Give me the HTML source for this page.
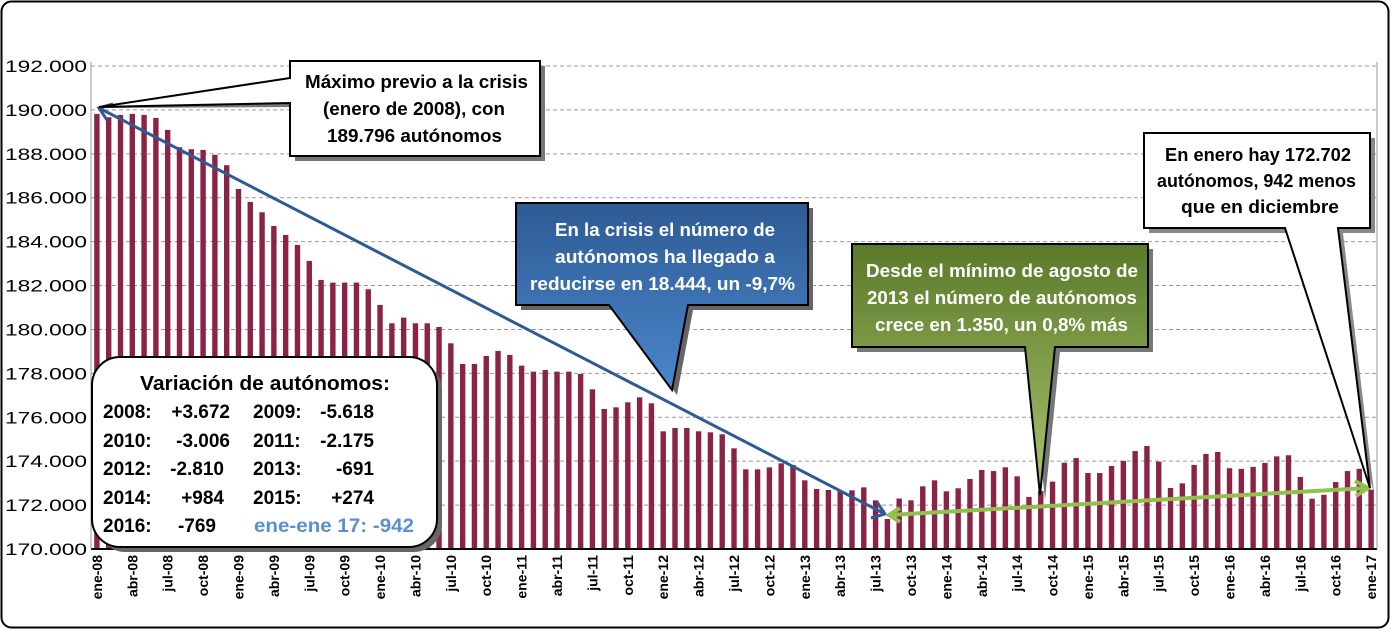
<!DOCTYPE html>
<html><head><meta charset="utf-8"><style>
html,body{margin:0;padding:0;background:#fff;}
svg{display:block;font-family:"Liberation Sans",Arial,sans-serif;}
</style></head><body>
<svg id="chart" width="1391" height="630" viewBox="0 0 1391 630" xmlns="http://www.w3.org/2000/svg">
<defs>
<linearGradient id="gb" x1="0" y1="0" x2="0" y2="1"><stop offset="0" stop-color="#2e5b94"/><stop offset="1" stop-color="#4a86cc"/></linearGradient>
<linearGradient id="gg" x1="0" y1="0" x2="0" y2="1"><stop offset="0" stop-color="#5a7a2a"/><stop offset="1" stop-color="#a9c46e"/></linearGradient>
</defs>
<rect x="1.5" y="1.5" width="1387" height="626" rx="10" fill="#fff" stroke="#000" stroke-width="2"/>
<g id="grid"></g>
<g id="ylab"></g>
<g id="bars"></g>
<g id="xlab"></g>
<line x1="91" y1="549" x2="1377" y2="549" stroke="#000" stroke-width="2"/>
<line x1="91" y1="62" x2="91" y2="549" stroke="#999" stroke-width="1"/>
<line x1="1377" y1="62" x2="1377" y2="549" stroke="#999" stroke-width="1"/>

<g stroke="#2f5b95" stroke-width="3" fill="none">
<line x1="99" y1="108" x2="885" y2="514"/>
<polyline points="113,104 99,108 107,120"/>
<polyline points="871,518 885,514 877,502"/>
</g>
<g stroke="#92c050" stroke-width="4" fill="none">
<line x1="889" y1="515" x2="1368" y2="488"/>
<polyline points="900,508 889,515 900,522"/>
<polyline points="1355,481 1368,488 1356,496"/>
</g>

<g font-size="18" font-weight="bold">
<polygon points="295,66 545,66 545,161 295,161 295,107 99,108 295,84" fill="#777"/>
<polygon points="290,61 540,61 540,156 290,156 290,103 99,107 290,78" fill="#fff" stroke="#000" stroke-width="2"/>
<text x="305" y="88" textLength="223" lengthAdjust="spacingAndGlyphs">Máximo previo a la crisis</text>
<text x="323" y="115" textLength="182" lengthAdjust="spacingAndGlyphs">(enero de 2008), con</text>
<text x="327" y="142" textLength="175" lengthAdjust="spacingAndGlyphs">189.796  autónomos</text>
</g>
<g font-size="18" font-weight="bold" fill="#fff">
<polygon points="521,208 813,208 813,310 693,310 677,395 614,310 521,310" fill="#666"/>
<polygon points="516,203 808,203 808,305 688,305 672,390 609,305 516,305" fill="url(#gb)" stroke="#000" stroke-width="2"/>
<text x="555" y="236" textLength="220" lengthAdjust="spacingAndGlyphs">En la crisis el número de</text>
<text x="555" y="263" textLength="220" lengthAdjust="spacingAndGlyphs">autónomos ha llegado a</text>
<text x="530" y="290" textLength="265" lengthAdjust="spacingAndGlyphs">reducirse en 18.444,  un -9,7%</text>
</g>
<g font-size="18" font-weight="bold" fill="#fff">
<polygon points="857,249 1153,249 1153,352 1060,352 1045,500 1030,352 857,352" fill="#777"/>
<polygon points="852,244 1148,244 1148,347 1055,347 1040,495 1025,347 852,347" fill="url(#gg)" stroke="#000" stroke-width="2"/>
<text x="866" y="277" textLength="272" lengthAdjust="spacingAndGlyphs">Desde el mínimo de agosto de</text>
<text x="867" y="304" textLength="270" lengthAdjust="spacingAndGlyphs">2013 el número de autónomos</text>
<text x="875" y="331" textLength="253" lengthAdjust="spacingAndGlyphs">crece en 1.350,  un 0,8% más</text>
</g>
<g font-size="18" font-weight="bold">
<polygon points="1149,138 1375,138 1375,233 1343,233 1374,492 1290,233 1149,233" fill="#888"/>
<polygon points="1144,133 1370,133 1370,228 1338,228 1370,488 1285,228 1144,228" fill="#fff" stroke="#000" stroke-width="2"/>
<text x="1165" y="161" textLength="186" lengthAdjust="spacingAndGlyphs">En enero hay 172.702</text>
<text x="1157" y="187" textLength="199" lengthAdjust="spacingAndGlyphs">autónomos, 942 menos</text>
<text x="1181" y="213" textLength="158" lengthAdjust="spacingAndGlyphs">que en diciembre</text>
</g>
<g font-size="19" font-weight="bold">
<rect x="97" y="362" width="345" height="190" rx="28" fill="#666"/>
<rect x="92" y="357" width="345" height="190" rx="28" fill="#fff" stroke="#000" stroke-width="2"/>
<text x="140" y="390" font-size="20" textLength="250" lengthAdjust="spacingAndGlyphs">Variación de autónomos:</text>
<text x="103" y="418">2008:</text><text x="230" y="418" text-anchor="end">+3.672</text>
<text x="253" y="418">2009:</text><text x="374" y="418" text-anchor="end">-5.618</text>
<text x="103" y="447">2010:</text><text x="230" y="447" text-anchor="end">-3.006</text>
<text x="253" y="447">2011:</text><text x="374" y="447" text-anchor="end">-2.175</text>
<text x="103" y="475">2012:</text><text x="224" y="475" text-anchor="end">-2.810</text>
<text x="253" y="475">2013:</text><text x="374" y="475" text-anchor="end">-691</text>
<text x="103" y="504">2014:</text><text x="224" y="504" text-anchor="end">+984</text>
<text x="253" y="504">2015:</text><text x="374" y="504" text-anchor="end">+274</text>
<text x="103" y="532">2016:</text><text x="216" y="532" text-anchor="end">-769</text>
<text x="254" y="532" fill="#5b8fd0" textLength="160" lengthAdjust="spacingAndGlyphs">ene-ene 17: -942</text>
</g>
</svg>
<script>
const months = ["ene","feb","mar","abr","may","jun","jul","ago","sep","oct","nov","dic"];
const values = [
189818,189666,189772,189818,189772,189636,189090,188301,188210,188179,187951,187481,
186401,185809,185338,184714,184304,183849,183121,182255,182134,182134,182134,181830,
181116,180281,180539,180281,180281,180114,179370,178428,178428,178793,179021,178839,
178352,178078,178155,178078,178078,177973,177275,176378,176454,176682,176910,176636,
175361,175513,175513,175361,175315,175224,174586,173629,173629,173720,173902,173827,
173128,172733,172688,172642,172672,172809,172217,171367,172300,172217,172855,173128,172627,
172765,173190,173600,173550,173720,173310,172370,172640,173070,173930,174140,173460,
173460,173780,174010,174460,174690,173980,172780,172990,173830,174330,174420,173680,
173650,173740,173920,174220,174270,173280,172290,172470,173050,173550,173650,172702];
const yTicks = [170000,172000,174000,176000,178000,180000,182000,184000,186000,188000,190000,192000];
const NS="http://www.w3.org/2000/svg";
const left=91, right=1377, y0=549, yTop=66, vMin=170000, vMax=192000;
const bw=(right-left)/values.length;
function yS(v){return y0-(v-vMin)/(vMax-vMin)*(y0-yTop);}
function xS(i){return left+bw*(i+0.5);}
function fmt(v){return String(v).replace(/\B(?=(\d{3})+(?!\d))/g,".");}
const grid=document.getElementById('grid'), ylab=document.getElementById('ylab');
yTicks.forEach(t=>{
  if(t>vMin){const l=document.createElementNS(NS,'line');
  l.setAttribute('x1',left);l.setAttribute('x2',right);l.setAttribute('y1',yS(t));l.setAttribute('y2',yS(t));
  l.setAttribute('stroke','#999');l.setAttribute('stroke-dasharray','4,3');
  
  
  grid.appendChild(l);}
  const tx=document.createElementNS(NS,'text');
  tx.setAttribute('x',5);tx.setAttribute('y',yS(t)+6);tx.setAttribute('font-size','17');
  tx.setAttribute('textLength','82');tx.setAttribute('lengthAdjust','spacingAndGlyphs');
  tx.textContent=fmt(t);
  
  
  ylab.appendChild(tx);
});
const bars=document.getElementById('bars'), xlab=document.getElementById('xlab');
values.forEach((v,i)=>{
  const r=document.createElementNS(NS,'rect');
  r.setAttribute('x',xS(i)-2.7);r.setAttribute('width',5.4);r.setAttribute('y',yS(v));r.setAttribute('height',y0-yS(v));
  r.setAttribute('fill','#8b2346');
  
  
  bars.appendChild(r);
  if(i%3===0){
    const lab=months[i%12]+"-"+String(8+Math.floor(i/12)).padStart(2,"0");
    const t=document.createElementNS(NS,'text');
    const x=xS(i)+5, y=555;
    t.setAttribute('x',x);t.setAttribute('y',y);t.setAttribute('text-anchor','end');
    t.setAttribute('transform','rotate(-90 '+x+' '+y+')');t.setAttribute('font-size','14');t.setAttribute('font-weight','bold');
    t.textContent=lab;
    
    
    xlab.appendChild(t);
  }
});
</script>
</body></html>
